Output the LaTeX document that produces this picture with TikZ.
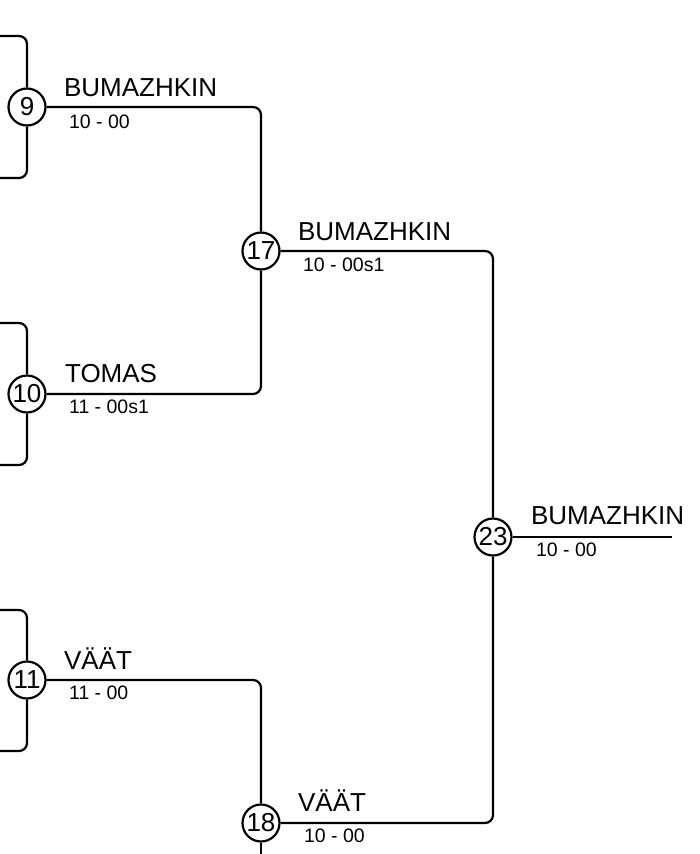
\documentclass[tikz,border=0pt]{standalone}
\usepackage{fontspec}
\setmainfont{Liberation Sans}
\begin{document}
\begin{tikzpicture}[x=1pt, y=-1pt, line width=2.2pt,
    match/.style={circle, draw, minimum size=37pt, inner sep=0pt, font=\fontsize{26}{26}\selectfont},
    player/.style={anchor=base west, inner sep=0pt, font=\fontsize{26}{30}\selectfont},
    score/.style={anchor=base west, inner sep=0pt, font=\fontsize{19.5}{22}\selectfont},
    wire/.style={rounded corners=8pt}]
    \useasboundingbox (0,0) rectangle (699,854);

    % Cuartos
    \node[match] (m9) at (27,107) {9};
    \node[match] (m10) at (27,394) {10};
    \node[match] (m11) at (27,680) {11};
    \node[player] (n9) at (63,96) {BUMAZHKIN};
    \node[score] (s9) at (68,128) {10 - 00};
    \node[player] (n10) at (64,382) {TOMAS};
    \node[score] (s10) at (68,413) {11 - 00s1};
    \node[player] (n11) at (63,669) {VÄÄT};
    \node[score] (s11) at (68,699) {11 - 00};

    % Semis
    \node[match] (m17) at (261,251) {17};
    \node[match] (m18) at (261,823) {18};
    \node[player] (n17) at (297,240) {BUMAZHKIN};
    \node[score] (s17) at (302,271) {10 - 00s1};
    \node[player] (n18) at (297,811) {VÄÄT};
    \node[score] (s18) at (303,842) {10 - 00};

    % Final
    \node[match] (m23) at (493,537) {23};
    \node[player] (n23) at (530,524) {BUMAZHKIN};
    \node[score] (s23) at (535,556) {10 - 00};

    % Extremos libres
    \coordinate (in9a) at (-5,36);  \coordinate (in9b) at (-5,178);
    \coordinate (in10a) at (-5,323); \coordinate (in10b) at (-5,465);
    \coordinate (in11a) at (-5,610); \coordinate (in11b) at (-5,751);
    \coordinate (out18) at (261,862);
    \coordinate (win) at (672,537);

    \draw[wire] (m9.north) |- (in9a); \draw[wire] (m9.south) |- (in9b);
    \draw[wire] (m10.north) |- (in10a); \draw[wire] (m10.south) |- (in10b);
    \draw[wire] (m11.north) |- (in11a); \draw[wire] (m11.south) |- (in11b);

    \draw[wire] (m9.east) -| (m17.north);
    \draw[wire] (m10.east) -| (m17.south);
    \draw[wire] (m11.east) -| (m18.north);
    \draw (m18.south) -- (out18);

    \draw[wire] (m17.east) -| (m23.north);
    \draw[wire] (m18.east) -| (m23.south);
    \draw (m23.east) -- (win);
\end{tikzpicture}
\end{document}
